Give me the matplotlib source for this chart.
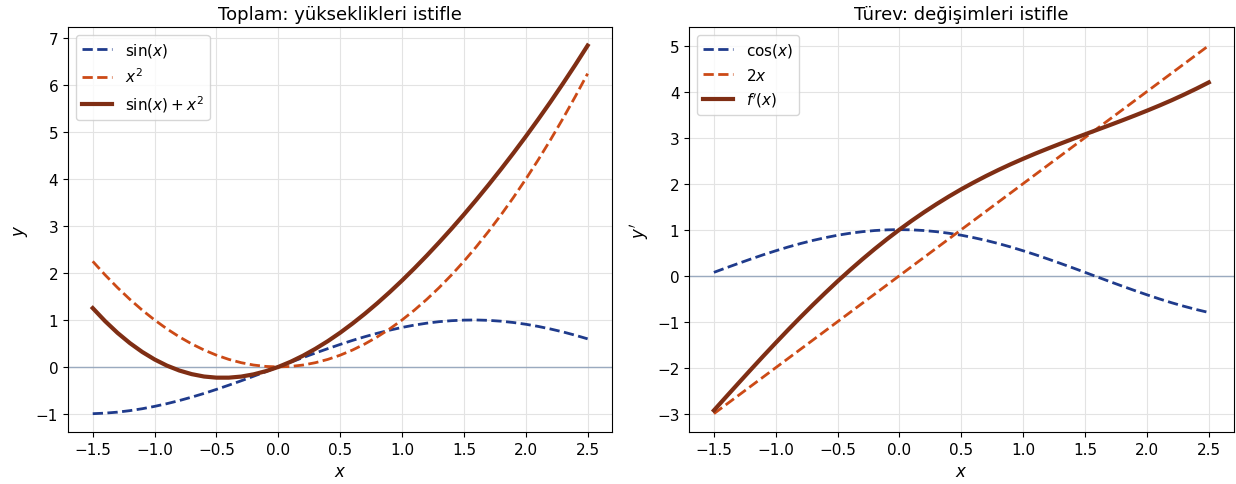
import matplotlib
matplotlib.use('Agg')
from matplotlib import pyplot as plt

# sample points
x = [-1.5, -1.4, -1.3, -1.2, -1.1, -1.0, -0.9, -0.8, -0.7, -0.6, -0.5,
     -0.4, -0.3, -0.2, -0.1, 0.0, 0.1, 0.2, 0.3, 0.4, 0.5,
     0.6, 0.7, 0.8, 0.9, 1.0, 1.1, 1.2, 1.3, 1.4, 1.5,
     1.6, 1.7, 1.8, 1.9, 2.0, 2.1, 2.2, 2.3, 2.4, 2.5]

# left panel
sin_y = [-0.997, -0.985, -0.964, -0.932, -0.891, -0.841, -0.783, -0.717, -0.644, -0.565, -0.479,
         -0.389, -0.296, -0.199, -0.100, 0.000, 0.100, 0.199, 0.296, 0.389, 0.479,
         0.565, 0.644, 0.717, 0.783, 0.841, 0.891, 0.932, 0.964, 0.985, 0.997,
         1.000, 0.992, 0.974, 0.946, 0.909, 0.863, 0.808, 0.746, 0.675, 0.598]
sq_y = [2.25, 1.96, 1.69, 1.44, 1.21, 1.00, 0.81, 0.64, 0.49, 0.36, 0.25,
        0.16, 0.09, 0.04, 0.01, 0.00, 0.01, 0.04, 0.09, 0.16, 0.25,
        0.36, 0.49, 0.64, 0.81, 1.00, 1.21, 1.44, 1.69, 1.96, 2.25,
        2.56, 2.89, 3.24, 3.61, 4.00, 4.41, 4.84, 5.29, 5.76, 6.25]
sum_y = [1.253, 0.975, 0.726, 0.508, 0.319, 0.159, 0.027, -0.077, -0.154, -0.205, -0.229,
         -0.229, -0.206, -0.159, -0.090, 0.000, 0.110, 0.239, 0.386, 0.549, 0.729,
         0.925, 1.134, 1.357, 1.593, 1.841, 2.101, 2.372, 2.654, 2.945, 3.247,
         3.560, 3.882, 4.214, 4.556, 4.909, 5.273, 5.648, 6.036, 6.435, 6.848]

# right panel
cos_y = [0.071, 0.170, 0.267, 0.362, 0.454, 0.540, 0.622, 0.697, 0.765, 0.825, 0.878,
         0.921, 0.955, 0.980, 0.995, 1.000, 0.995, 0.980, 0.955, 0.921, 0.878,
         0.825, 0.765, 0.697, 0.622, 0.540, 0.454, 0.362, 0.267, 0.170, 0.071,
         -0.029, -0.129, -0.227, -0.323, -0.416, -0.505, -0.589, -0.666, -0.737, -0.801]
lin_y = [-3.0, -2.8, -2.6, -2.4, -2.2, -2.0, -1.8, -1.6, -1.4, -1.2, -1.0,
         -0.8, -0.6, -0.4, -0.2, 0.0, 0.2, 0.4, 0.6, 0.8, 1.0,
         1.2, 1.4, 1.6, 1.8, 2.0, 2.2, 2.4, 2.6, 2.8, 3.0,
         3.2, 3.4, 3.6, 3.8, 4.0, 4.2, 4.4, 4.6, 4.8, 5.0]
der_y = [-2.929, -2.630, -2.333, -2.038, -1.746, -1.460, -1.178, -0.903, -0.635, -0.375, -0.122,
         0.121, 0.355, 0.580, 0.795, 1.000, 1.195, 1.380, 1.555, 1.721, 1.878,
         2.025, 2.165, 2.297, 2.422, 2.540, 2.654, 2.762, 2.867, 2.970, 3.071,
         3.171, 3.271, 3.373, 3.477, 3.584, 3.695, 3.811, 3.934, 4.063, 4.199]

blue = '#1f3b8c'
orange = '#cc4a16'
brown = '#7f2e14'

fig, (ax1, ax2) = plt.subplots(1, 2, figsize=(12.36, 4.85), dpi=100)
fig.subplots_adjust(left=0.055, right=0.998, top=0.942, bottom=0.107, wspace=0.141)

# left: sum of heights
ax1.axhline(0, color='#9aaabf', lw=1, zorder=2)
ax1.plot(x, sin_y, '--', color=blue, lw=2, label=r'$\sin(x)$', zorder=3)
ax1.plot(x, sq_y, '--', color=orange, lw=2, label=r'$x^2$', zorder=3)
ax1.plot(x, sum_y, '-', color=brown, lw=3, label=r'$\sin(x) + x^2$', zorder=3)
ax1.set_title('Toplam: yükseklikleri istifle', fontsize=13)
ax1.set_xlabel('$x$', fontsize=12)
ax1.set_ylabel('$y$', fontsize=12)
ax1.grid(True, color='#e3e3e3', lw=0.8)
ax1.legend(loc='upper left', fontsize=11)

# right: derivatives
ax2.axhline(0, color='#9aaabf', lw=1, zorder=2)
ax2.plot(x, cos_y, '--', color=blue, lw=2, label=r'$\cos(x)$', zorder=3)
ax2.plot(x, lin_y, '--', color=orange, lw=2, label=r'$2x$', zorder=3)
ax2.plot(x, der_y, '-', color=brown, lw=3, label=r"$f'(x)$", zorder=3)
ax2.set_title('Türev: değişimleri istifle', fontsize=13)
ax2.set_xlabel('$x$', fontsize=12)
ax2.set_ylabel("$y'$", fontsize=12)
ax2.grid(True, color='#e3e3e3', lw=0.8)
ax2.legend(loc='upper left', fontsize=11)

for ax in (ax1, ax2):
    ax.tick_params(labelsize=11)

plt.savefig('out.png')
